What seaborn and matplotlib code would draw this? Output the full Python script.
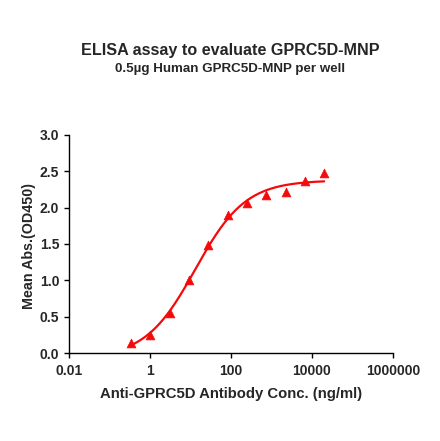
import numpy as np
import pandas as pd
import matplotlib
matplotlib.use("Agg")
import matplotlib.pyplot as plt
import seaborn as sns

# 3-fold serial dilution, ng/ml
conc = [20000, 6667, 2222, 740.7, 246.9, 82.3, 27.4, 9.14, 3.05, 1.016, 0.339]
od450 = [2.47, 2.37, 2.22, 2.17, 2.06, 1.90, 1.49, 1.00, 0.55, 0.25, 0.14]

x_ticks = [0.01, 1, 100, 10000, 1000000]
x_tick_labels = ["0.01", "1", "100", "10000", "1000000"]
y_ticks = [0.0, 0.5, 1.0, 1.5, 2.0, 2.5, 3.0]

RED = "#f40a0a"


def fit_4pl(x, y):
    # grid over log EC50 and Hill slope, bottom/top solved by least squares
    lx = np.log10(x)
    best = None
    for lec in np.linspace(-1, 4, 251):
        for h in np.linspace(0.3, 2.5, 111):
            s = 1.0 / (1.0 + 10 ** ((lec - lx) * h))
            A = np.column_stack([1 - s, s])
            coef, *_ = np.linalg.lstsq(A, y, rcond=None)
            err = np.sum((A @ coef - y) ** 2)
            if best is None or err < best[0]:
                best = (err, coef[0], coef[1], lec, h)
    return best[1:]


def main():
    df = pd.DataFrame({"conc": conc, "od": od450})
    bottom, top, lec, h = fit_4pl(df["conc"].values, df["od"].values)
    xs = np.logspace(np.log10(min(conc)) + 0.04, np.log10(max(conc)), 200)
    curve = pd.DataFrame({
        "conc": xs,
        "od": bottom + (top - bottom) / (1 + 10 ** ((lec - np.log10(xs)) * h)),
    })

    sns.set_style("ticks")
    plt.rcParams["font.family"] = ["Liberation Sans", "DejaVu Sans"]
    plt.rcParams["font.weight"] = "bold"

    fig = plt.figure(figsize=(4.4, 4.41), dpi=100)
    ax = fig.add_axes([0.157, 0.1995, 0.736, 0.4945])

    sns.lineplot(data=curve, x="conc", y="od", color=RED, linewidth=1.6, ax=ax)
    sns.scatterplot(data=df, x="conc", y="od", marker="^", color=RED, s=40,
                    edgecolor=RED, linewidth=0.5, ax=ax, zorder=3)

    ax.set_xscale("log")
    ax.set_xlim(0.01, 1000000)
    ax.set_ylim(0, 3.0)
    ax.set_xticks(x_ticks)
    ax.set_xticklabels(x_tick_labels)
    ax.minorticks_off()
    ax.set_yticks(y_ticks)
    ax.set_yticklabels([f"{v:.1f}" for v in y_ticks])
    ax.tick_params(labelsize=10, width=1, length=3.6, color="black")
    ax.tick_params(axis="x", pad=4.5)
    for lab in ax.get_xticklabels() + ax.get_yticklabels():
        lab.set_fontweight("bold")
    for side in ["left", "bottom"]:
        ax.spines[side].set_color("black")
        ax.spines[side].set_linewidth(1)
    sns.despine(ax=ax)

    ax.set_xlabel("Anti-GPRC5D Antibody Conc. (ng/ml)", fontsize=10.7,
                  fontweight="bold", labelpad=6)
    ax.set_ylabel("Mean Abs.(OD450)", fontsize=10.3, fontweight="bold")
    ax.yaxis.set_label_coords(-0.103, 0.49)

    fig.text(0.523, 0.876, "ELISA assay to evaluate GPRC5D-MNP", ha="center",
             fontsize=11.6, fontweight="bold")
    fig.text(0.523, 0.837, "0.5\u00b5g Human GPRC5D-MNP per well", ha="center",
             fontsize=9.6, fontweight="bold")

    fig.savefig("out.png", dpi=100)
    plt.close(fig)


if __name__ == "__main__":
    main()
